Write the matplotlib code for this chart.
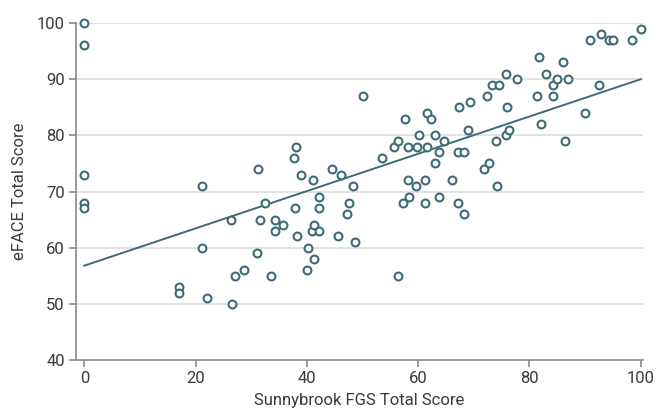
import numpy as np
import matplotlib
matplotlib.use("Agg")
import matplotlib.pyplot as plt

plt.rcParams['font.family'] = ['Roboto', 'DejaVu Sans']

# valeurs
sunnybrook = [0, 0, 0, 0, 0, 17.1, 17.1, 21.2, 21.2, 22.1, 26.3, 26.6, 27, 28.7,
              31.1, 31.3, 31.5, 32.5, 33.6, 34.3, 34.2, 35.7, 37.6, 37.8, 38.1,
              38.2, 39, 40.2, 40.1, 40.9, 41.1, 41.2, 41.2, 42.1, 42.2, 42.2,
              44.6, 45.6, 46.2, 47.2, 47.6, 48.2, 48.7, 50.1, 53.5, 55.7, 56.3,
              56.3, 57.2, 57.6, 58.2, 58.2, 58.3, 59.6, 59.7, 60.2, 61.3, 61.3,
              61.6, 61.6, 62.3, 63.1, 63.1, 63.7, 63.8, 64.7, 66.1, 67.2, 67.2,
              67.4, 68.2, 68.3, 68.9, 69.3, 71.8, 72.4, 72.7, 73.2, 74.2, 74.5,
              73.9, 75.7, 75.8, 75.9, 76.3, 77.7, 81.3, 81.8, 82.1, 83, 84.3,
              84.3, 85, 86.1, 86.4, 86.9, 89.9, 90.9, 92.5, 92.9, 94.3, 95,
              98.4, 100]
eface = [100, 96, 73, 68, 67, 53, 52, 71, 60, 51, 65, 50, 55, 56,
         59, 74, 65, 68, 55, 65, 63, 64, 76, 67, 78,
         62, 73, 60, 56, 63, 72, 64, 58, 63, 69, 67,
         74, 62, 73, 66, 68, 71, 61, 87, 76, 78, 79,
         55, 68, 83, 78, 72, 69, 71, 78, 80, 72, 68,
         84, 78, 83, 80, 75, 77, 69, 79, 72, 68, 77,
         85, 66, 77, 81, 86, 74, 87, 75, 89, 71, 89,
         79, 91, 80, 85, 81, 90, 87, 94, 82, 91, 89,
         87, 90, 93, 79, 90, 84, 97, 89, 98, 97, 97,
         97, 99]

# droite de regression
fit_intercept = 56.8
fit_slope = 0.332

couleur = '#3e6b75'
gris = '#3a3a3a'

fig = plt.figure(figsize=(6.59, 4.15), dpi=100)
ax = fig.add_axes([0.1153, 0.1325, 0.8604, 0.812])

for y in [50, 60, 70, 80, 90, 100]:
    ax.axhline(y, color='#dddddd', lw=1.2, zorder=0)

xs = np.array([0, 100])
ax.plot(xs, fit_intercept + fit_slope * xs, color=couleur, lw=1.4, zorder=2)
ax.scatter(sunnybrook, eface, s=32, facecolors='white', edgecolors=couleur,
           linewidths=1.5, zorder=3, clip_on=False)

ax.set_xlim(-1.5, 100.4)
ax.set_ylim(40, 100)
ax.set_xticks(range(0, 101, 20))
ax.set_yticks(range(40, 101, 10))

for s in ['top', 'right']:
    ax.spines[s].set_visible(False)
for s in ['left', 'bottom']:
    ax.spines[s].set_color('#8a8a8a')
    ax.spines[s].set_linewidth(1.2)
ax.tick_params(colors='#8a8a8a', length=5, width=1.2, labelsize=12,
               labelcolor=gris, pad=3)

ax.set_xlabel('Sunnybrook FGS Total Score', fontsize=12, color=gris, labelpad=5)
ax.set_ylabel('eFACE Total Score', fontsize=12, color=gris, labelpad=7)

fig.savefig('out.png', dpi=100)
